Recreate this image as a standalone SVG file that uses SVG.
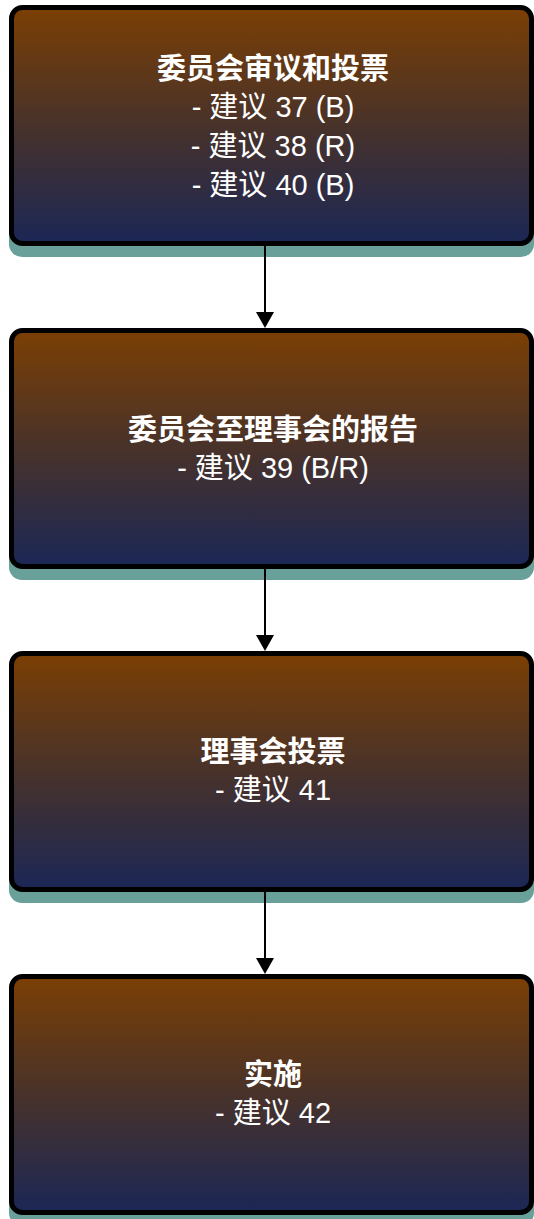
<svg xmlns="http://www.w3.org/2000/svg" width="534" height="1219" viewBox="0 0 534 1219">
<style>
.shadow{fill:#69a099}
.box{fill:url(#g);stroke:#000;stroke-width:5}
.t{font-family:"Liberation Sans","Noto Sans CJK SC",sans-serif;font-size:29px;fill:#fff;text-anchor:middle}
.b{font-weight:bold}
.conn line{stroke:#000;stroke-width:2}
.conn polygon{fill:#000}
</style>
<defs>
<linearGradient id="g" x1="0" y1="0" x2="0" y2="1">
<stop offset="0" stop-color="#7b3f04"/>
<stop offset="0.5" stop-color="#48322a"/>
<stop offset="1" stop-color="#1b2756"/>
</linearGradient>
</defs>
<g id="node1">
<rect class="shadow" x="9" y="16" width="525" height="241" rx="13"/>
<rect class="box" x="11.5" y="7.5" width="520" height="236" rx="11"/>
<text class="t b" x="273" y="79">委员会审议和投票</text>
<text class="t" x="273" y="117">- 建议 37 (B)</text>
<text class="t" x="273" y="156">- 建议 38 (R)</text>
<text class="t" x="273" y="195">- 建议 40 (B)</text>
</g>
<g id="node2">
<rect class="shadow" x="9" y="339" width="525" height="241" rx="13"/>
<rect class="box" x="11.5" y="330.5" width="520" height="236" rx="11"/>
<text class="t b" x="273" y="440">委员会至理事会的报告</text>
<text class="t" x="273" y="478">- 建议 39 (B/R)</text>
</g>
<g id="node3">
<rect class="shadow" x="9" y="662" width="525" height="241" rx="13"/>
<rect class="box" x="11.5" y="653.5" width="520" height="236" rx="11"/>
<text class="t b" x="273" y="762">理事会投票</text>
<text class="t" x="273" y="800">- 建议 41</text>
</g>
<g id="node4">
<rect class="shadow" x="9" y="985" width="525" height="241" rx="13"/>
<rect class="box" x="11.5" y="976.5" width="520" height="236" rx="11"/>
<text class="t b" x="273" y="1085">实施</text>
<text class="t" x="273" y="1123">- 建议 42</text>
</g>
<g id="connectors" class="conn">
<line x1="265" y1="246" x2="265" y2="314"/>
<polygon points="256,312 274,312 265,328"/>
<line x1="265" y1="569" x2="265" y2="637"/>
<polygon points="256,635 274,635 265,651"/>
<line x1="265" y1="892" x2="265" y2="960"/>
<polygon points="256,958 274,958 265,974"/>
</g>
</svg>
